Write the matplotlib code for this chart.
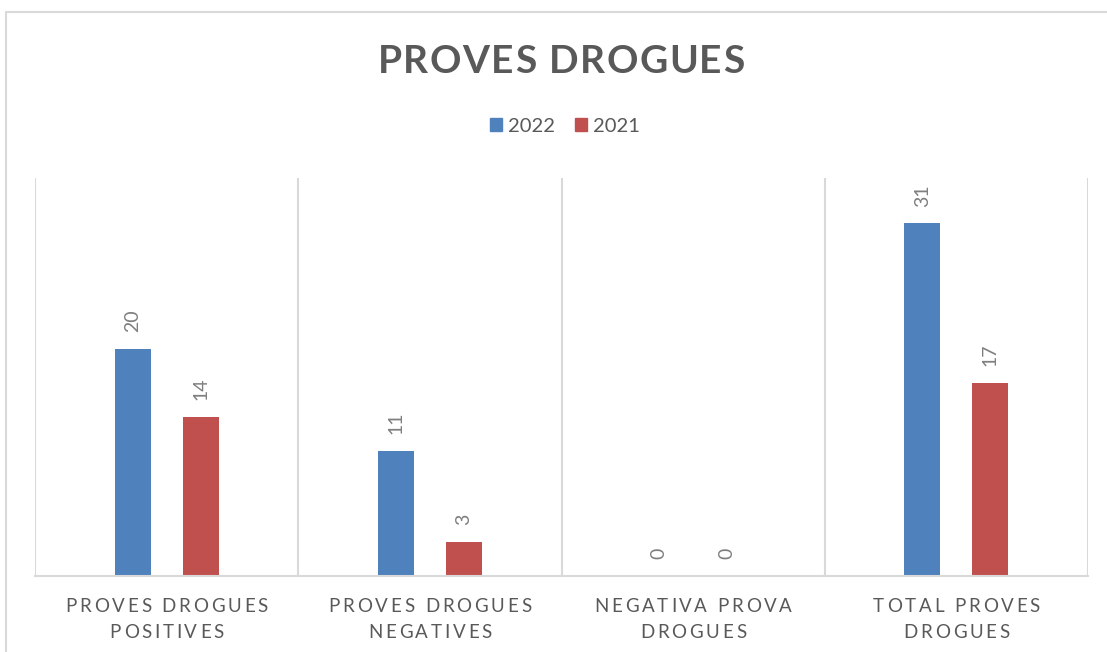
import matplotlib
matplotlib.use('Agg')
import matplotlib.pyplot as plt
import numpy as np
from matplotlib.font_manager import FontProperties, findfont, get_font
from matplotlib.patches import Patch
from matplotlib.lines import Line2D

# data
categories = ['PROVES DROGUES\nPOSITIVES', 'PROVES DROGUES\nNEGATIVES',
              'NEGATIVA PROVA\nDROGUES', 'TOTAL PROVES\nDROGUES']
years = ['2022', '2021']
values_2022 = [20, 11, 0, 31]
values_2021 = [14, 3, 0, 17]
colors = ['#4F81BD', '#C0504D']

W, H = 1107, 652
DPI = 100
TEXT = '#595959'
GRID = '#D9D9D9'


def spaced_text(fig, x, y, s, size, spacing, weight='normal', color=TEXT):
    # no letter spacing in matplotlib, so place glyphs one by one
    # x, y are pixels from the top-left corner, y is the baseline
    fp = FontProperties(family='Lato', weight=weight, size=size)
    font = get_font(findfont(fp))
    font.set_size(size, DPI)
    adv = [font.load_char(ord(c)).linearHoriAdvance / 65536 for c in s]
    total = sum(adv) + spacing * (len(s) - 1)
    cx = x - total / 2
    for c, a in zip(s, adv):
        if c != ' ':
            fig.text(cx / W, 1 - y / H, c, fontproperties=fp, color=color,
                     ha='left', va='baseline')
        cx += a + spacing


def main():
    fig = plt.figure(figsize=(W / DPI, H / DPI), dpi=DPI)
    ax = fig.add_axes([35 / W, 1 - 576 / H, (1088 - 35) / W, (576 - 178) / H])

    x = np.arange(len(categories))
    width = 0.137
    off = 0.129
    b1 = ax.bar(x - off, values_2022, width, color=colors[0], label=years[0])
    b2 = ax.bar(x + off, values_2021, width, color=colors[1], label=years[1])

    ax.set_xlim(-0.5, len(categories) - 0.5)
    ax.set_ylim(0, 35)
    for s in ['top', 'right', 'left']:
        ax.spines[s].set_visible(False)
    ax.spines['bottom'].set_color(GRID)
    ax.spines['bottom'].set_linewidth(1.5)
    for xv in np.arange(-0.5, len(categories)):
        ax.axvline(xv, color=GRID, lw=1.5, zorder=0)
    ax.set_xticks([])
    ax.set_yticks([])

    for bars in (b1, b2):
        ax.bar_label(bars, padding=12, rotation=90, color='#7F7F7F',
                     fontsize=14, family='Lato')

    # category labels, letter spaced, two lines
    for i, cat in enumerate(categories):
        px = ax.transData.transform((i, 0))[0]
        for j, line in enumerate(cat.split('\n')):
            spaced_text(fig, px, 612 + 26 * j, line, 13.5, 2.8)

    # title
    spaced_text(fig, 561, 73, 'PROVES DROGUES', 28, 1.5, weight='bold')

    handles = [Patch(color=colors[0], label=years[0]),
               Patch(color=colors[1], label=years[1])]
    fig.legend(handles=handles, loc='center', bbox_to_anchor=(565 / W, 1 - 126 / H),
               ncol=2, frameon=False, handlelength=0.6, handleheight=0.6,
               handletextpad=0.3, columnspacing=1.0,
               prop=FontProperties(family='Lato', size=14.5), labelcolor=TEXT)

    # outer chart border (only top and left visible in the crop)
    fig.add_artist(Line2D([6 / W, 6 / W, 1], [0, 1 - 12 / H, 1 - 12 / H],
                          transform=fig.transFigure, color=GRID, lw=1.5))

    fig.savefig('out.png', dpi=DPI)


if __name__ == "__main__":
    main()
